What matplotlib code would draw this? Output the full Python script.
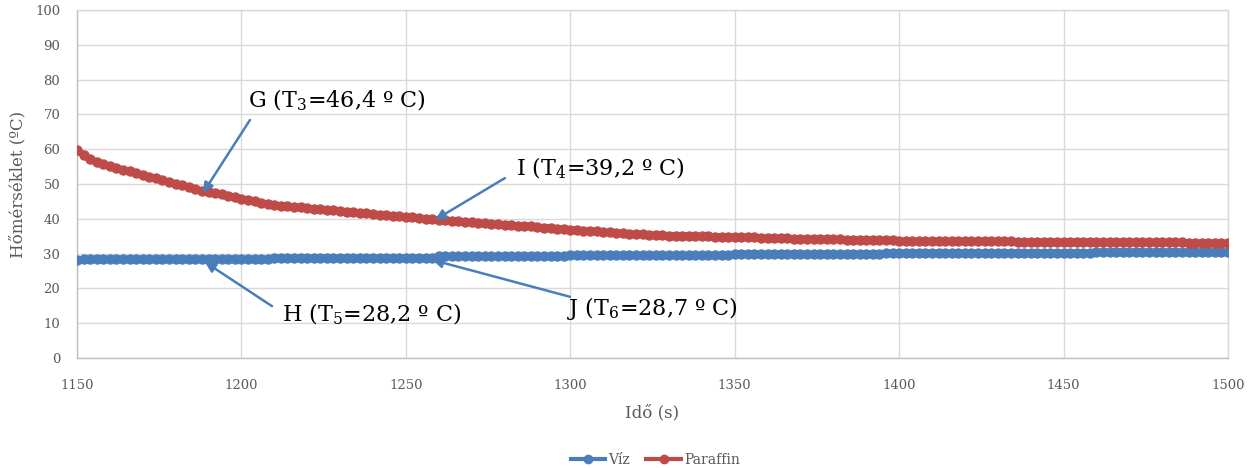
import numpy as np
import matplotlib
matplotlib.use("Agg")
import matplotlib.pyplot as plt

plt.rcParams['font.family'] = ['DejaVu Serif']
plt.rcParams['mathtext.fontset'] = 'dejavuserif'

# time axis (s), 2-second sampling
time_s = np.arange(1150, 1501, 2)

paraffin = [
    59.8, 58.3, 57.1, 56.3, 55.7, 55.1, 54.6, 54.1, 53.6, 53.1,
    52.6, 52.1, 51.6, 51.1, 50.6, 50.1, 49.6, 49.1, 48.6, 48.0,
    47.6, 47.3, 47.0, 46.6, 46.2, 45.8, 45.4, 45.0, 44.6, 44.2,
    44.0, 43.8, 43.6, 43.5, 43.3, 43.1, 42.9, 42.8, 42.6, 42.4,
    42.3, 42.1, 41.9, 41.7, 41.6, 41.4, 41.2, 41.0, 40.9, 40.7,
    40.5, 40.4, 40.2, 40.0, 39.9, 39.7, 39.6, 39.4, 39.3, 39.1,
    39.0, 38.8, 38.7, 38.5, 38.4, 38.2, 38.1, 38.0, 37.9, 37.8,
    37.6, 37.5, 37.4, 37.2, 37.1, 36.9, 36.8, 36.6, 36.5, 36.4,
    36.2, 36.1, 36.0, 35.8, 35.7, 35.6, 35.5, 35.4, 35.3, 35.3,
    35.2, 35.2, 35.1, 35.1, 35.0, 35.0, 35.0, 34.9, 34.9, 34.9,
    34.8, 34.8, 34.7, 34.7, 34.6, 34.5, 34.5, 34.4, 34.4, 34.3,
    34.3, 34.2, 34.2, 34.2, 34.1, 34.1, 34.1, 34.0, 34.0, 34.0,
    34.0, 33.9, 33.9, 33.9, 33.9, 33.6, 33.6, 33.6, 33.5, 33.5,
    33.5, 33.5, 33.5, 33.5, 33.5, 33.5, 33.5, 33.5, 33.5, 33.5,
    33.5, 33.5, 33.5, 33.4, 33.4, 33.4, 33.4, 33.4, 33.4, 33.4,
    33.4, 33.4, 33.4, 33.4, 33.4, 33.3, 33.3, 33.3, 33.3, 33.3,
    33.3, 33.3, 33.3, 33.3, 33.2, 33.2, 33.2, 33.2, 33.2, 33.1,
    33.1, 33.1, 33.1, 33.0, 33.0, 33.0,
]

viz = [
    28.2, 28.4, 28.4, 28.4, 28.4, 28.4, 28.4, 28.4, 28.4, 28.4,
    28.4, 28.4, 28.4, 28.4, 28.4, 28.4, 28.4, 28.4, 28.4, 28.4,
    28.4, 28.4, 28.4, 28.4, 28.4, 28.4, 28.4, 28.4, 28.4, 28.4,
    28.8, 28.8, 28.8, 28.8, 28.8, 28.8, 28.8, 28.8, 28.8, 28.8,
    28.8, 28.8, 28.8, 28.8, 28.8, 28.8, 28.8, 28.8, 28.8, 28.8,
    28.8, 28.8, 28.8, 28.8, 28.8, 29.2, 29.2, 29.2, 29.2, 29.2,
    29.2, 29.2, 29.2, 29.2, 29.2, 29.2, 29.2, 29.2, 29.2, 29.2,
    29.2, 29.2, 29.2, 29.2, 29.2, 29.5, 29.5, 29.5, 29.5, 29.5,
    29.5, 29.5, 29.5, 29.5, 29.5, 29.5, 29.5, 29.5, 29.5, 29.5,
    29.5, 29.5, 29.5, 29.5, 29.5, 29.5, 29.5, 29.5, 29.5, 29.5,
    29.9, 29.9, 29.9, 29.9, 29.9, 29.9, 29.9, 29.9, 29.9, 29.9,
    29.9, 29.9, 29.9, 29.9, 29.9, 29.9, 29.9, 29.9, 29.9, 29.9,
    29.9, 29.9, 29.9, 30.2, 30.2, 30.2, 30.2, 30.2, 30.2, 30.2,
    30.2, 30.2, 30.2, 30.2, 30.2, 30.2, 30.2, 30.2, 30.2, 30.2,
    30.2, 30.2, 30.2, 30.2, 30.2, 30.2, 30.2, 30.2, 30.2, 30.2,
    30.2, 30.2, 30.2, 30.2, 30.2, 30.4, 30.4, 30.4, 30.4, 30.4,
    30.4, 30.4, 30.4, 30.4, 30.4, 30.4, 30.4, 30.4, 30.4, 30.4,
    30.4, 30.4, 30.4, 30.4, 30.4, 30.4,
]

series_names = ["Víz", "Paraffin"]
x_ticks = [1150, 1200, 1250, 1300, 1350, 1400, 1450, 1500]
y_ticks = [0, 10, 20, 30, 40, 50, 60, 70, 80, 90, 100]

annotations = [
    ("G (T$_3$=46,4 \u00ba C)", (1188.3, 47.4), (1202.6, 68.4), (1202.0, 74.0)),
    ("I (T$_4$=39,2 \u00ba C)", (1258.9, 39.7), (1280.1, 51.7), (1283.5, 54.6)),
    ("H (T$_5$=28,2 \u00ba C)", (1188.9, 27.6), (1209.3, 14.9), (1212.3, 12.6)),
    ("J (T$_6$=28,7 \u00ba C)", (1258.0, 28.2), (1299.9, 17.6), (1299.0, 14.2)),
]

blue = "#4A7EBB"
red = "#BE4B48"
grid_c = "#D9D9D9"
tick_c = "#595959"

fig = plt.figure(figsize=(12.6, 4.68), dpi=100)
ax = fig.add_axes([0.0611, 0.235, 0.9135, 0.7436])

ax.plot(time_s, viz, color=blue, lw=5, marker='o', ms=6.5, mec=blue, mfc=blue,
        label=series_names[0], zorder=3)
ax.plot(time_s, paraffin, color=red, lw=5, marker='o', ms=6.5, mec=red, mfc=red,
        label=series_names[1], zorder=3)

ax.set_xlim(1150, 1500)
ax.set_ylim(0, 100)
ax.set_xticks(x_ticks)
ax.set_yticks(y_ticks)
ax.grid(True, color=grid_c, lw=1)
ax.set_axisbelow(True)
for s in ax.spines.values():
    s.set_color(grid_c)
    s.set_linewidth(1)
ax.spines['left'].set_color("#BFBFBF")
ax.spines['bottom'].set_color("#BFBFBF")
ax.tick_params(axis='y', length=0, colors=tick_c, labelsize=9.5, pad=12)
ax.tick_params(axis='x', length=0, colors=tick_c, labelsize=9.5, pad=15)

ax.set_xlabel("Idő (s)", fontsize=12, color=tick_c, labelpad=9)
ax.set_ylabel("Hőmérséklet (ºC)", fontsize=12, color=tick_c, labelpad=6)

for text, tip, start, tpos in annotations:
    ax.annotate("", xy=tip, xytext=start,
                arrowprops=dict(arrowstyle="-|>,head_length=0.6,head_width=0.3",
                                color=blue, lw=1.8, shrinkA=0, shrinkB=0),
                zorder=5)
    ax.text(tpos[0], tpos[1], text, fontsize=16, color="black",
            va='center', ha='left', zorder=6)

leg = fig.legend(loc='lower center', bbox_to_anchor=(0.52, -0.025), ncol=2,
                 frameon=False, fontsize=10, handlelength=2.5, columnspacing=1.2,
                 handletextpad=0.2)
for t in leg.get_texts():
    t.set_color(tick_c)
for h in leg.legend_handles:
    h.set_linewidth(3)
    h.set_markersize(6)

fig.savefig("out.png", dpi=100)
